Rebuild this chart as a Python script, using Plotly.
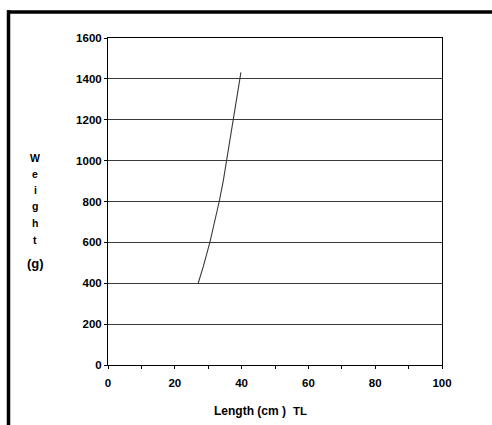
import plotly.graph_objects as go

# Data
length_cm = [27.0, 28.5, 30.5, 32.0, 33.3, 34.5, 35.5, 36.5, 37.5, 38.5, 39.5, 39.8]
weight_g = [400, 480, 600, 700, 800, 900, 1000, 1100, 1200, 1300, 1400, 1432]

y_ticks = [0, 200, 400, 600, 800, 1000, 1200, 1400, 1600]
x_ticks = [0, 10, 20, 30, 40, 50, 60, 70, 80, 90, 100]
x_ticktext = ["0", "", "20", "", "40", "", "60", "", "80", "", "100"]
y_title_letters = ["W", "e", "i", "g", "h", "t", "(g)"]

FONT = "Liberation Sans, Arial, sans-serif"
W, H = 492, 425
L, R, T, B = 108, 50, 38, 60
pw, ph = W - L - R, H - T - B

fig = go.Figure()
fig.add_trace(go.Scatter(
    x=length_cm, y=weight_g, mode="lines",
    line=dict(color="#3a3a3a", width=1.1),
    showlegend=False, hoverinfo="skip",
))

fig.update_layout(
    width=W, height=H,
    margin=dict(l=L, r=R, t=T, b=B, pad=0),
    paper_bgcolor="white", plot_bgcolor="white",
    font=dict(family=FONT, size=11, color="black"),
    xaxis=dict(
        range=[0, 100], tickvals=x_ticks, ticktext=x_ticktext,
        ticks="outside", ticklen=3, tickwidth=1, tickcolor="black",
        showgrid=False, zeroline=False,
        showline=True, linecolor="black", linewidth=1, mirror=True,
        tickfont=dict(family=FONT, size=11.5, weight="bold"),
        ticklabelstandoff=4,
        fixedrange=True,
    ),
    yaxis=dict(
        range=[0, 1600], tickvals=y_ticks,
        ticks="outside", ticklen=3, tickwidth=1, tickcolor="black",
        showgrid=True, gridcolor="#3a3a3a", gridwidth=1,
        zeroline=False,
        showline=True, linecolor="black", linewidth=1, mirror=True,
        tickfont=dict(family=FONT, size=11.5, weight="bold"),
        fixedrange=True,
    ),
)

def px_x(px):
    return (px - L) / pw

def px_y(py):
    return (H - B - py) / ph

letter_py = [158, 174, 190, 206, 223, 240, 263]
annotations = []
for letter, py in zip(y_title_letters, letter_py):
    annotations.append(dict(
        text=letter, xref="paper", yref="paper", x=px_x(35), y=px_y(py),
        showarrow=False, xanchor="center", yanchor="middle",
        font=dict(family=FONT, size=13 if letter == "(g)" else 10.5, weight="bold"),
    ))
annotations.append(dict(
    text="Length (cm )", xref="paper", yref="paper", x=px_x(250), y=px_y(411),
    showarrow=False, xanchor="center", yanchor="middle",
    font=dict(family=FONT, size=12, weight="bold"),
))
annotations.append(dict(
    text="TL", xref="paper", yref="paper", x=px_x(299.5), y=px_y(411),
    showarrow=False, xanchor="center", yanchor="middle",
    font=dict(family=FONT, size=11.5, weight="bold"),
))
fig.update_layout(annotations=annotations)

# outer frame (top and left edges visible)
fig.add_shape(type="line", xref="paper", yref="paper",
              x0=px_x(7), x1=px_x(W + 2), y0=px_y(12), y1=px_y(12),
              line=dict(color="black", width=3.5))
fig.add_shape(type="line", xref="paper", yref="paper",
              x0=px_x(8.5), x1=px_x(8.5), y0=px_y(10.3), y1=px_y(H + 2),
              line=dict(color="black", width=3.5))

fig.write_html(
    "out.html",
    config={"displayModeBar": False},
    post_script="document.body.style.margin='0';document.body.style.overflow='hidden';",
)
